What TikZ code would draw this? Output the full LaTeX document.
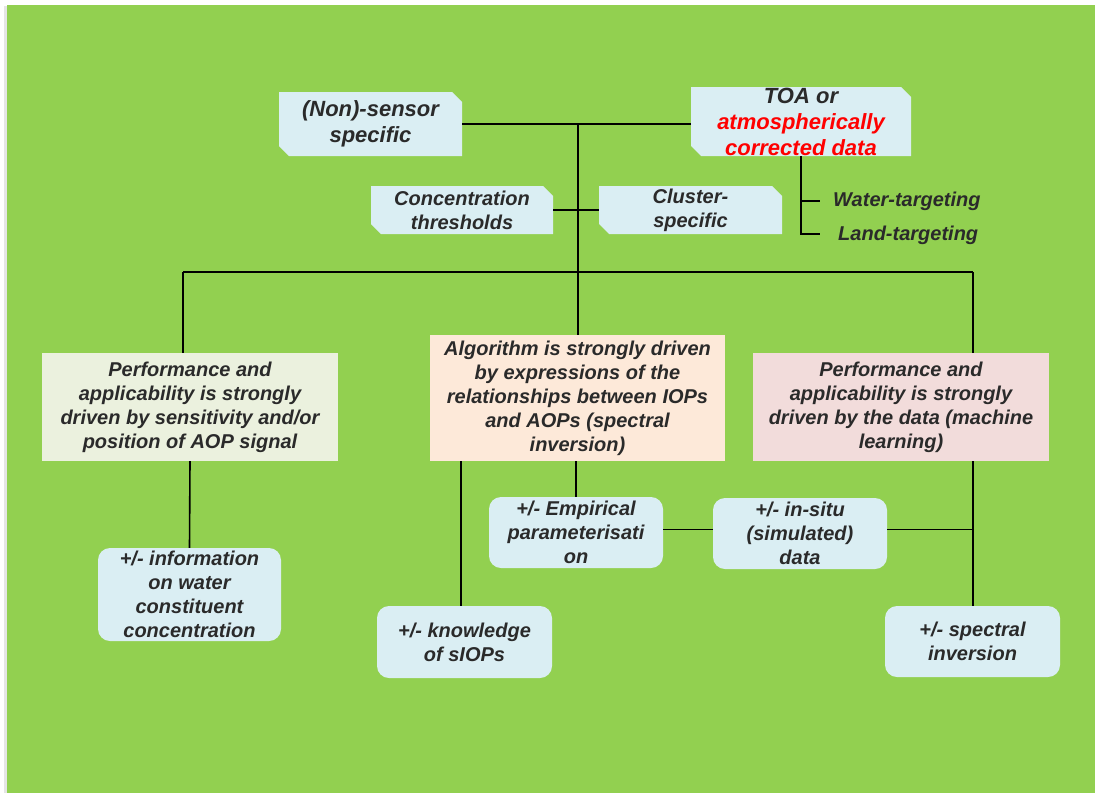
\documentclass[tikz,border=0pt]{standalone}
\usepackage{fontspec}
\setmainfont{Liberation Sans}
\definecolor{bggreen}{HTML}{92D050}
\definecolor{boxblue}{HTML}{DAEEF3}
\definecolor{boxbeige}{HTML}{EBF1DE}
\definecolor{boxpeach}{HTML}{FDE9D9}
\definecolor{boxpink}{HTML}{F2DCDB}
\definecolor{txt}{HTML}{2A2A2A}
\definecolor{redtxt}{HTML}{FF0000}
\begin{document}
\begin{tikzpicture}[x=1pt,y=-1pt,
  base/.style={font=\fontsize{20pt}{24pt}\selectfont\bfseries\itshape, text=txt, align=center, inner sep=0pt},
  big/.style={font=\fontsize{22pt}{26pt}\selectfont\bfseries\itshape},
  snip/.style={base, rectangle, path picture={
     \fill[boxblue] ([xshift=10pt]path picture bounding box.south west)
       -- (path picture bounding box.south east)
       -- ([yshift=-10pt]path picture bounding box.north east)
       -- ([xshift=-10pt]path picture bounding box.north east)
       -- (path picture bounding box.north west)
       -- ([yshift=10pt]path picture bounding box.south west) -- cycle;}},
  flat/.style={base, rectangle, fill=#1},
  rbox/.style={base, rectangle, rounded corners=12pt, fill=boxblue},
  lbl/.style={base, anchor=west},
  conn/.style={draw=black, line width=1.6pt}
]
\useasboundingbox (0,0) rectangle (1095,793);
\fill[white] (0,0) rectangle (1095,793);
\fill[gray!20] (4,6) rectangle (1095,793);
\fill[bggreen] (7,5) rectangle (1095,793);

% top row
\node[snip, big, minimum width=183pt, minimum height=64pt] (nons) at (370.5,124) {(Non)-sensor\\specific};
\node[snip, big, minimum width=220pt, minimum height=69pt] (toa) at (801,121.5)
  {TOA or\\\textcolor{redtxt}{atmospherically}\\\textcolor{redtxt}{corrected data}};
\node[snip, minimum width=182pt, minimum height=48pt] (conc) at (462,210) {Concentration\\thresholds};
\node[snip, minimum width=183pt, minimum height=48pt] (clus) at (690.5,210) {Cluster-\\specific};
\node[lbl] (water) at (833,201) {Water-targeting};
\node[lbl] (land) at (838,235) {Land-targeting};

% middle row
\node[flat=boxbeige, minimum width=296pt, minimum height=108pt] (perf1) at (190,407)
  {Performance and\\applicability is strongly\\driven by sensitivity and/or\\position of AOP signal};
\node[flat=boxpeach, minimum width=295pt, minimum height=126pt] (alg) at (577.5,398)
  {Algorithm is strongly driven\\by expressions of the\\relationships between IOPs\\and AOPs (spectral\\inversion)};
\node[flat=boxpink, minimum width=296pt, minimum height=108pt] (perf2) at (901,407)
  {Performance and\\applicability is strongly\\driven by the data (machine\\learning)};

% bottom row
\node[rbox, minimum width=183pt, minimum height=93pt] (info) at (189.5,594.5)
  {+/- information\\on water\\constituent\\concentration};
\node[rbox, minimum width=175pt, minimum height=72pt] (know) at (464.5,642) {+/- knowledge\\of sIOPs};
\node[rbox, minimum width=174pt, minimum height=71pt] (emp) at (576,532.5) {+/- Empirical\\parameterisati\\on};
\node[rbox, minimum width=174pt, minimum height=71pt] (insitu) at (800,533.5) {+/- in-situ\\(simulated)\\data};
\node[rbox, minimum width=175pt, minimum height=71pt] (spec) at (972.5,641.5) {+/- spectral\\inversion};

% coordinates
\coordinate (top) at (578,124);
\coordinate (bl) at (183,272);
\coordinate (br) at (973,272);
\coordinate (wt) at (820,201);
\coordinate (lt) at (820,234);
\coordinate (kx) at (461,461);
\coordinate (rx) at (973,461);

% connectors
\draw[conn] (nons.east |- top) -- (toa.west |- top);
\draw[conn] (top) -- (alg.north -| top);
\draw[conn] (conc.east) -- (clus.west);
\draw[conn] (toa.south) |- (lt);
\draw[conn] (toa.south |- wt) -- (wt);
\draw[conn] (bl) -- (br);
\draw[conn] (bl) -- (bl |- perf1.north);
\draw[conn] (br) -- (br |- perf2.north);
\draw[conn] (perf1.south) -- (info.north);
\draw[conn] (emp.north |- alg.south) -- (emp.north);
\draw[conn] (kx) -- (kx |- know.north);
\draw[conn] ([yshift=3pt]emp.east) -- ([yshift=3pt]emp.east -| insitu.west);
\draw[conn] ([yshift=4pt]insitu.east) -- ([yshift=4pt]insitu.east -| rx);
\draw[conn] (rx) -- (rx |- spec.north);
\end{tikzpicture}
\end{document}
